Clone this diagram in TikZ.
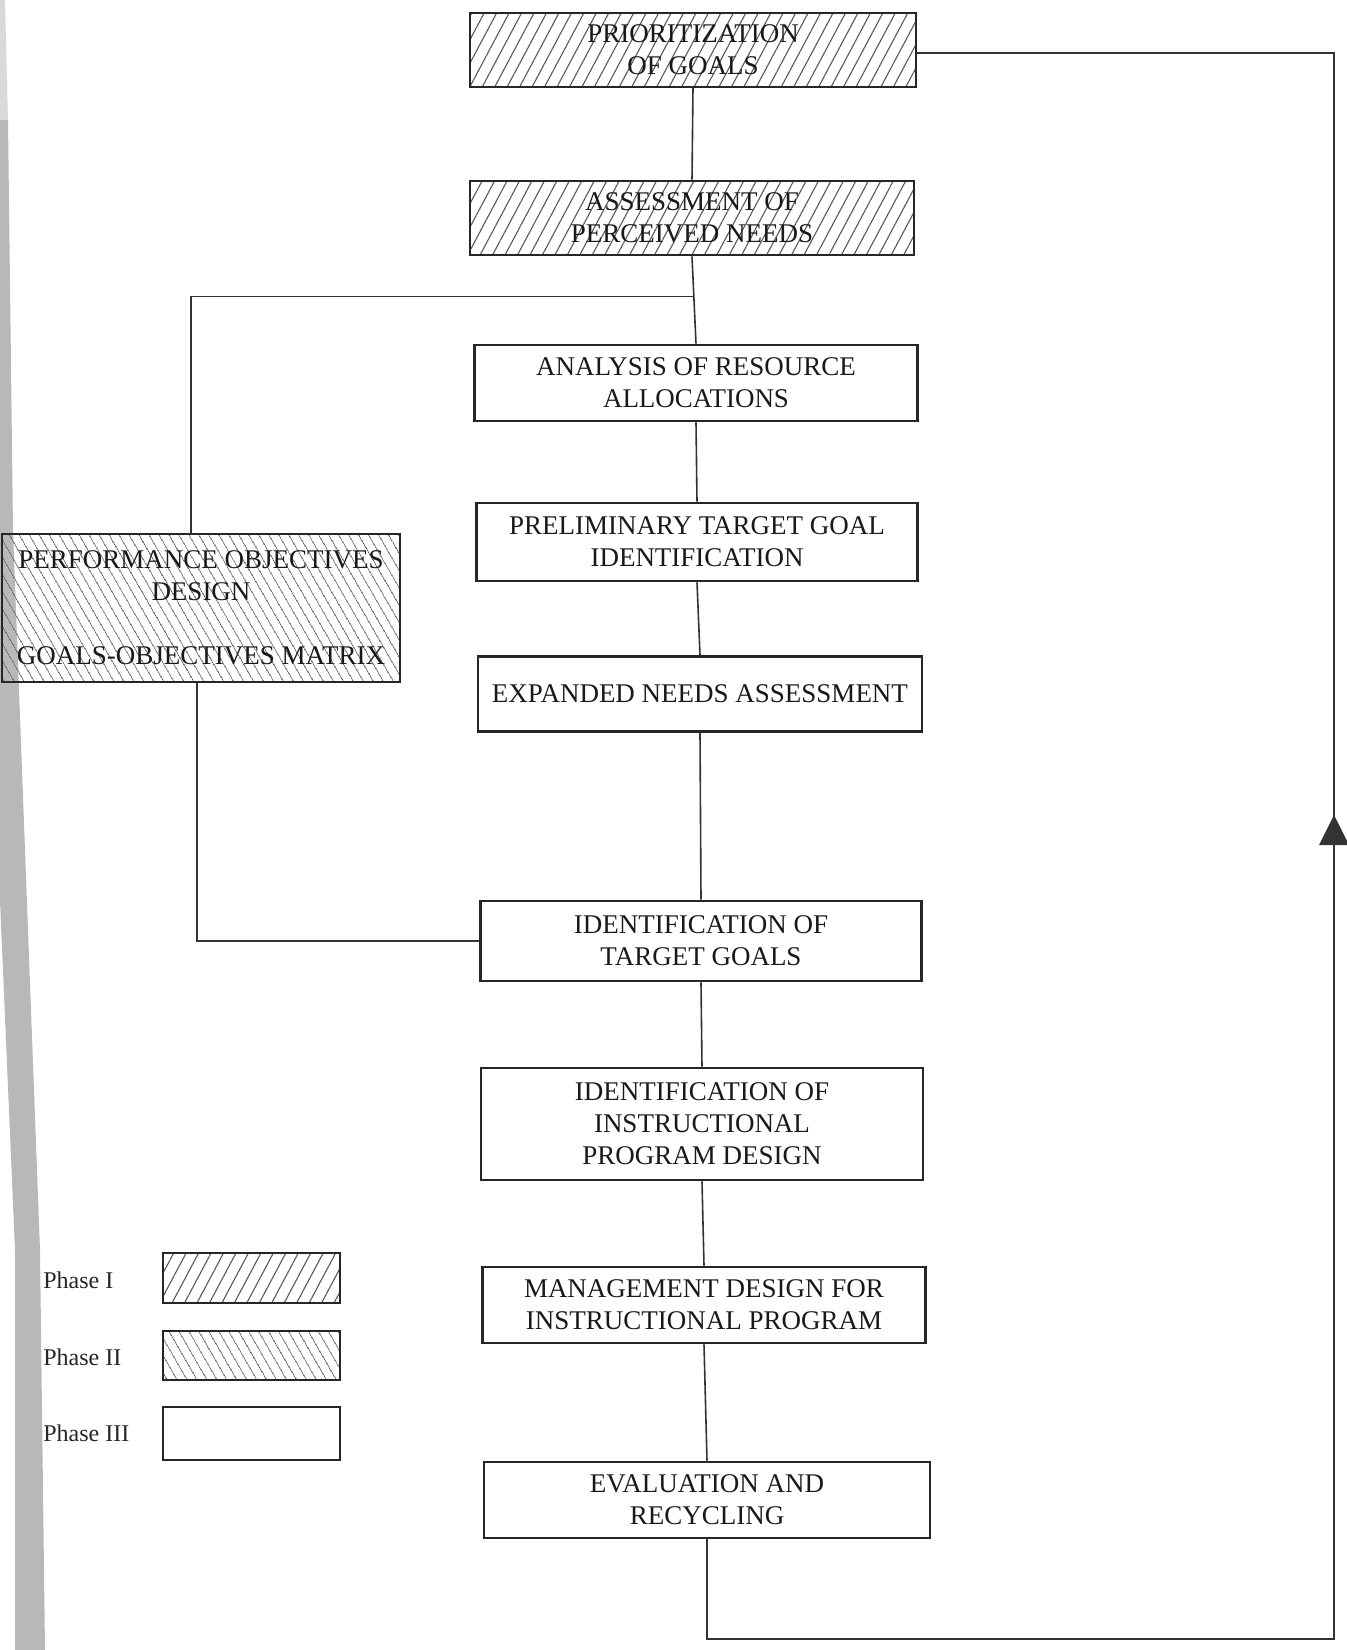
\documentclass[tikz,border=0pt]{standalone}
\usepackage{fontspec}
\setmainfont{Liberation Serif}
\usetikzlibrary{patterns.meta,calc}
\tikzset{
  box/.style={draw=black!85, line width=1.4pt, inner sep=0pt, align=center,
    font=\fontsize{13.5}{16}\selectfont, text=black!90},
  phaseone/.style={box, pattern={Lines[angle=62,distance=5.5pt,line width=0.55pt]}, pattern color=black!65},
  phasetwo/.style={box, pattern={Lines[angle=-60,distance=4pt,line width=0.5pt]}, pattern color=black!65},
  phasethree/.style={box, fill=white},
  link/.style={draw=black!80, line width=0.8pt},
  legendlabel/.style={anchor=west, inner sep=0pt, font=\fontsize{12}{14}\selectfont, text=black!85},
}
\begin{document}
\begin{tikzpicture}[x=0.5pt,y=-0.5pt]
\useasboundingbox (0,0) rectangle (1346,1650);
\fill[white] (0,0) rectangle (1346,1650);
% scan shadow at the left edge
\fill[black!15] (0,0) -- (5,0) -- (8,120) -- (0,120) -- cycle;
\fill[black!28] (0,120) -- (8,120) -- (13,530) -- (40,1250) -- (45,1650) -- (15,1650) -- (15,1250) -- (0,900) -- cycle;

% main column
\node[phaseone, minimum width=223pt, minimum height=37pt] (b1) at (693,50) {PRIORITIZATION\\OF GOALS};
\node[phaseone, minimum width=222pt, minimum height=37pt] (b2) at (692,218) {ASSESSMENT OF\\PERCEIVED NEEDS};
\node[phasethree, minimum width=221.5pt, minimum height=38pt] (b3) at (696,383) {ANALYSIS OF RESOURCE\\ALLOCATIONS};
\node[phasethree, minimum width=220.5pt, minimum height=39pt] (b4) at (697,542) {PRELIMINARY TARGET GOAL\\IDENTIFICATION};
\node[phasetwo, minimum width=199pt, minimum height=74pt] (left) at (201,608) {PERFORMANCE OBJECTIVES\\DESIGN\\[16pt]GOALS-OBJECTIVES MATRIX};
\node[phasethree, minimum width=222pt, minimum height=37.5pt] (b5) at (700,694) {EXPANDED NEEDS ASSESSMENT};
\node[phasethree, minimum width=220.5pt, minimum height=40pt] (b6) at (701,941) {IDENTIFICATION OF\\TARGET GOALS};
\node[phasethree, minimum width=221pt, minimum height=56pt] (b7) at (702,1124) {IDENTIFICATION OF\\INSTRUCTIONAL\\PROGRAM DESIGN};
\node[phasethree, minimum width=221.5pt, minimum height=38pt] (b8) at (704,1305) {MANAGEMENT DESIGN FOR\\INSTRUCTIONAL PROGRAM};
\node[phasethree, minimum width=223pt, minimum height=38pt] (b9) at (707,1500) {EVALUATION AND\\RECYCLING};

% legend
\node[phaseone, line width=1.2pt, minimum width=88.5pt, minimum height=25pt] (lg1) at (251.5,1278) {};
\node[phasetwo, line width=1.2pt, minimum width=88.5pt, minimum height=24.5pt] (lg2) at (251.5,1355.5) {};
\node[phasethree, line width=1.2pt, minimum width=88.5pt, minimum height=26.5pt] (lg3) at (251.5,1433.5) {};
\node[legendlabel] (t1) at (43,1280) {Phase I};
\node[legendlabel] (t2) at (43,1357) {Phase II};
\node[legendlabel] (t3) at (43,1433) {Phase III};

% connectors
\draw[link] (b1.south) -- (b2.north);
\draw[link] (b2.south) -- (b3.north);
\coordinate (br) at ($(b2.south)!0.46!(b3.north)$);
\draw[link] (br) -| ([xshift=-5pt]left.north);
\draw[link] (b3.south) -- (b4.north);
\draw[link] (b4.south) -- (b5.north);
\draw[link] (b5.south) -- (b6.north);
\draw[link] ([xshift=-2pt]left.south) |- (b6.west);
\draw[link] (b6.south) -- (b7.north);
\draw[link] (b7.south) -- (b8.north);
\draw[link] (b8.south) -- (b9.north);
\coordinate (c2) at (1334,1639);
\coordinate (c3) at (1334,53);
\draw[link] (b9.south) |- (c2) -- (c3) -- (c3 -| b1.east);
% upward arrowhead on the return line
\fill[black!80] (1334,815) -- (1319,845) -- (1349,845) -- cycle;
\end{tikzpicture}
\end{document}
